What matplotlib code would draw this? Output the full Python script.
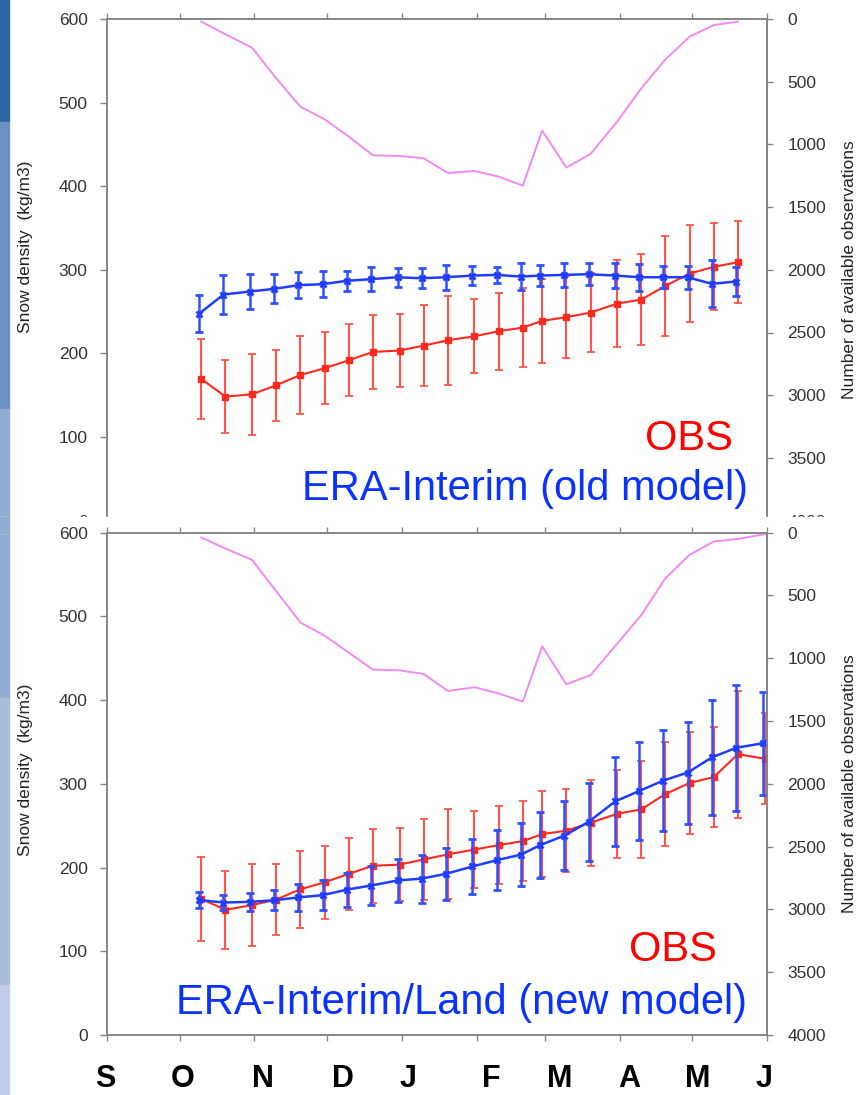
import matplotlib
matplotlib.use('Agg')
import matplotlib.pyplot as plt
from matplotlib.patches import Rectangle
import matplotlib.transforms as mtransforms

plt.rcParams['font.family'] = ['Liberation Sans', 'DejaVu Sans']

# ---------------- data ----------------
month_letters = ['S', 'O', 'N', 'D', 'J', 'F', 'M', 'A', 'M', 'J']
month_start_day = [0, 30, 61, 91, 122, 153, 181, 212, 242, 273]   # days since 1 Sep
# end-of-dekad dates (days since 1 Sep), Oct 10 ... May 31
dekad_day = [39, 49, 60, 70, 80, 90, 100, 110, 121, 131, 141, 152,
             162, 172, 180, 190, 200, 211, 221, 231, 241, 251, 261, 272]

# Top panel: OBS vs ERA-Interim (old model) -- 23 dekads
top_obs_mean = [169.4, 148.3, 151.1, 161.9, 174.2, 182.2, 191.8, 201.8, 203.4, 209.3,
                215.7, 220.5, 226.5, 230.9, 238.9, 243.3, 248.8, 259.6, 264.4, 280.8,
                295.5, 303.5, 309.1]
top_obs_std = [48.3, 43.9, 48.5, 42.3, 46.5, 42.9, 43.1, 44.1, 43.5, 48.1,
               53.3, 44.5, 45.9, 47.5, 50.5, 48.7, 47.3, 51.9, 54.9, 59.5,
               57.5, 51.9, 48.9]
top_era_mean = [247.6, 270.4, 274.0, 277.2, 281.6, 282.8, 286.8, 288.8, 291.1, 289.9,
                291.1, 293.1, 293.9, 291.9, 293.1, 293.9, 294.7, 293.1, 291.1, 291.1,
                291.1, 283.2, 286.0]
top_era_std = [21.7, 23.5, 21.4, 17.2, 15.6, 15.4, 12.2, 14.1, 11.2, 11.8,
               14.8, 11.2, 10.0, 16.0, 13.0, 14.0, 13.2, 14.8, 16.4, 13.0,
               13.8, 28.0, 17.2]
top_count = [21, 122, 229, 473, 699, 800, 938, 1087, 1092, 1111,
             1228, 1212, 1257, 1329, 890, 1185, 1076, 819, 553, 322,
             141, 48, 21]

# Bottom panel: OBS vs ERA-Interim/Land (new model) -- 24 dekads
bot_obs_mean = [162.6, 149.5, 155.2, 161.8, 174.1, 182.4, 192.5, 202.2, 203.5, 209.7,
                215.8, 221.5, 226.8, 231.6, 240.0, 244.0, 253.6, 264.2, 269.5, 287.9,
                301.1, 308.1, 335.5, 330.0]
bot_obs_std = [50.4, 46.4, 48.8, 42.2, 46.2, 43.3, 43.3, 44.2, 43.3, 48.6,
               53.6, 46.0, 47.0, 47.5, 51.4, 49.5, 51.2, 52.3, 57.8, 62.0,
               60.7, 59.3, 76.0, 54.4]
bot_era_mean = [161.3, 158.2, 159.1, 160.9, 164.4, 167.0, 173.6, 178.5, 184.6, 186.8,
                192.5, 201.3, 208.8, 215.4, 226.8, 238.2, 254.5, 279.0, 291.5, 304.0,
                313.5, 331.5, 343.0, 348.5]
bot_era_std = [9.5, 8.8, 11.0, 12.1, 16.0, 18.0, 20.2, 23.7, 25.5, 28.8,
               31.2, 33.4, 35.9, 37.8, 39.6, 41.3, 46.2, 53.6, 58.2, 60.8,
               60.9, 68.2, 75.0, 61.7]
bot_count = [38, 126, 217, 466, 715, 820, 955, 1090, 1096, 1125,
             1260, 1231, 1280, 1345, 905, 1207, 1134, 885, 656, 363,
             176, 70, 50, 12]

density_ticks = [0, 100, 200, 300, 400, 500, 600]
count_ticks = [0, 500, 1000, 1500, 2000, 2500, 3000, 3500, 4000]

# ---------------- styling ----------------
W, H = 861, 1095
fig = plt.figure(figsize=(W / 100, H / 100), dpi=100)


def fx(px):
    return px / W


def fy(py):
    return 1 - py / H


SPINE = '#858585'
RED = '#ff2a1f'
RED_E = '#ff5548'
BLUE = '#1f3cff'
BLUE_E = '#3050ff'
PINK = '#f08af0'

# left decorative strip
strip = [(0, 122, '#2d68a5'), (122, 409, '#6c90c2'), (409, 698, '#93aad2'),
         (698, 985, '#a9bbdb'), (985, 1095, '#c1cce6')]
for y0, y1, c in strip:
    fig.patches.append(Rectangle((0, fy(y1)), fx(9), (y1 - y0) / H,
                                 transform=fig.transFigure, color=c, zorder=0))


def style_panel(ax, ax2, zo, top_ticks_only):
    ax.set_zorder(zo)
    ax2.set_zorder(zo + 0.1)
    ax.set_xlim(month_start_day[0], month_start_day[-1])
    ax.set_ylim(0, 600)
    ax2.set_ylim(4000, 0)
    ax.set_xticks(month_start_day)
    ax.set_yticks(density_ticks)
    ax2.set_yticks(count_ticks)
    for a in (ax, ax2):
        for s in a.spines.values():
            s.set_color(SPINE)
            s.set_linewidth(1.2)
    ax.tick_params(axis='x', top=True, bottom=not top_ticks_only,
                   labeltop=False, labelbottom=False, direction='out',
                   length=4.5, width=1, color=SPINE)
    ax.tick_params(axis='y', direction='out', length=5, width=1, color=SPINE,
                   labelsize=12.5, labelcolor='#333333', pad=9)
    ax2.tick_params(axis='y', direction='out', length=4.5, width=1, color=SPINE,
                    labelsize=12.5, labelcolor='#333333', pad=10)
    ax.set_ylabel('Snow density  (kg/m3)', fontsize=12.5, color='#222222')
    ax2.set_ylabel('Number of available observations', fontsize=12.5,
                   color='#222222')
    ax2.yaxis.set_label_coords(1.114, 0.5)


def draw_panel(ax, ax2, obs_m, obs_s, era_m, era_s, count):
    n_o = len(obs_m)
    n_e = len(era_m)
    ax.errorbar(dekad_day[:n_o], obs_m, yerr=obs_s, color=RED, ecolor=RED_E,
                lw=1.5, elinewidth=1.5, capsize=3, capthick=1.3,
                marker='s', ms=4, zorder=3)
    shift = mtransforms.offset_copy(ax.transData, fig=fig, x=-2, y=0,
                                    units='dots')
    ax.errorbar(dekad_day[:n_e], era_m, yerr=era_s, color=BLUE, ecolor=BLUE_E,
                lw=1.8, elinewidth=1.8, capsize=3, capthick=1.6,
                marker='x', ms=4.5, mew=2, zorder=4, transform=shift)
    ax2.plot(dekad_day[:len(count)], count, color=PINK, lw=1.4)


# top panel
ax_t = fig.add_axes([fx(107), fy(520.6), fx(767) - fx(107), (520.6 - 19) / H])
ax_t2 = ax_t.twinx()
style_panel(ax_t, ax_t2, 0, True)
ax_t.yaxis.set_label_coords(-0.112, 0.545)
draw_panel(ax_t, ax_t2, top_obs_mean, top_obs_std, top_era_mean, top_era_std,
           top_count)

# white cover hiding the bottom edge of the top panel
fig.patches.append(Rectangle((0, fy(533)), 1, (533 - 517) / H,
                             transform=fig.transFigure, color='white',
                             zorder=1))

# bottom panel
ax_b = fig.add_axes([fx(107), fy(1035), fx(767) - fx(107), (1035 - 532.7) / H])
ax_b2 = ax_b.twinx()
style_panel(ax_b, ax_b2, 2, False)
ax_b.yaxis.set_label_coords(-0.112, 0.528)
draw_panel(ax_b, ax_b2, bot_obs_mean, bot_obs_std, bot_era_mean, bot_era_std,
           bot_count)

# re-draw strip over the cover (cover spans full width)
for y0, y1, c in strip:
    lo, hi = max(y0, 517), min(y1, 533)
    if hi > lo:
        fig.patches.append(Rectangle((0, fy(hi)), fx(9), (hi - lo) / H,
                                     transform=fig.transFigure, color=c,
                                     zorder=1.5))

# labels
fig.text(fx(733), fy(450), 'OBS', ha='right', va='baseline', fontsize=30,
         color='#ff0000', zorder=5)
fig.text(fx(748), fy(500), 'ERA-Interim (old model)', ha='right',
         va='baseline', fontsize=30, color='#0a32ff', zorder=5)
fig.text(fx(717), fy(961), 'OBS', ha='right', va='baseline', fontsize=30,
         color='#ff0000', zorder=5)
fig.text(fx(747), fy(1014), 'ERA-Interim/Land (new model)', ha='right',
         va='baseline', fontsize=30, color='#0a32ff', zorder=5)

month_label_px = [105, 183, 263, 343, 408, 491, 560, 629, 698, 764]
for m, px in zip(month_letters, month_label_px):
    fig.text(fx(px), fy(1079), m, ha='center', va='center', fontsize=22,
             fontweight='bold', color='black', zorder=5)

fig.savefig('out.png', dpi=100)
